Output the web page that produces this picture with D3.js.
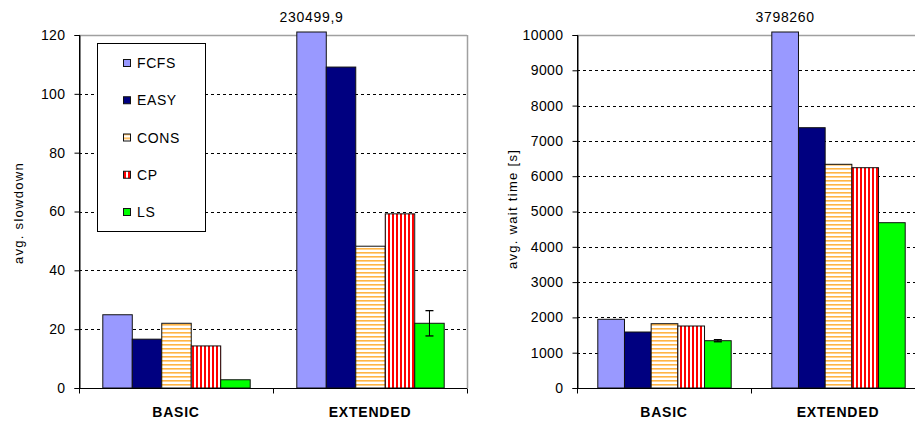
<!DOCTYPE html>
<html>
<head>
<meta charset="utf-8">
<script src="https://cdn.jsdelivr.net/npm/d3@7"></script>
<style>
  html, body { margin: 0; padding: 0; background: #fff; }
  svg { display: block; font-family: "Liberation Sans", Arial, sans-serif; }
</style>
</head>
<body>
<svg id="chart" width="915" height="422"></svg>
<script>
// ---- data ----
const categories = ["BASIC", "EXTENDED"];
const series = ["FCFS", "EASY", "CONS", "CP", "LS"];

const slowdownBasic    = [24.9, 16.6, 22.0, 14.3, 2.8];
const slowdownExtended = [230499.9, 109.1, 48.2, 59.2, 22.0];
const slowdownErrBasic    = [0, 0, 0, 0, 0];
const slowdownErrExtended = [0, 0, 0, 0, 4.3];
const slowdownTicks = [0, 20, 40, 60, 80, 100, 120];

const waitBasic    = [1946, 1586, 1822, 1756, 1340];
const waitExtended = [3798260, 7374, 6337, 6241, 4683];
const waitErrBasic    = [0, 0, 0, 0, 30];
const waitErrExtended = [0, 0, 0, 0, 0];
const waitTicks = [0, 1000, 2000, 3000, 4000, 5000, 6000, 7000, 8000, 9000, 10000];

const fills = { FCFS: "#9999FF", EASY: "#000080", CONS: "url(#pCons)", CP: "url(#pCp)", LS: "#00FF00" };

const svg = d3.select("#chart");
const defs = svg.append("defs");
// horizontal orange stripes
const pc = defs.append("pattern").attr("id", "pCons").attr("patternUnits", "userSpaceOnUse")
  .attr("width", 4).attr("height", 4);
pc.append("rect").attr("width", 4).attr("height", 4).attr("fill", "#fff");
pc.append("rect").attr("y", 0).attr("width", 4).attr("height", 1.6).attr("fill", "#FFB444");
// vertical red stripes
const pr = defs.append("pattern").attr("id", "pCp").attr("patternUnits", "userSpaceOnUse")
  .attr("width", 4).attr("height", 4);
pr.append("rect").attr("width", 4).attr("height", 4).attr("fill", "#fff");
pr.append("rect").attr("x", 0).attr("width", 2).attr("height", 4).attr("fill", "#FF0000");

function fmtVal(v) { return String(v).replace(".", ","); }

function drawPanel(opt) {
  const { left, right, top, bottom, max, ticks, barPad } = opt;
  const g = svg.append("g");
  const x = d3.scaleBand().domain(categories).range([left, right]).padding(0);
  const xs = d3.scaleBand().domain(series).range([barPad, x.bandwidth() - barPad]).padding(0);
  const y = d3.scaleLinear().domain([0, max]).range([bottom, top]);

  // gridlines (dashed)
  g.append("g").selectAll("line").data(ticks.filter(t => t > 0 && t < max)).join("line")
    .attr("x1", left).attr("x2", right)
    .attr("y1", d => Math.round(y(d)) + 0.5).attr("y2", d => Math.round(y(d)) + 0.5)
    .attr("stroke", "#000").attr("stroke-dasharray", "3,3").attr("shape-rendering", "crispEdges");

  // plot border (grey) top and right
  g.append("line").attr("x1", left).attr("x2", right).attr("y1", top + 0.5).attr("y2", top + 0.5)
    .attr("stroke", "#A0A0A0").attr("stroke-width", 1.5);
  g.append("line").attr("x1", right + 0.5).attr("x2", right + 0.5).attr("y1", top).attr("y2", bottom)
    .attr("stroke", "#A0A0A0").attr("stroke-width", 1.5);

  // y axis
  const yAxis = d3.axisLeft(y).tickValues(ticks).tickSize(5).tickPadding(9).tickFormat(d3.format("d"));
  const ya = g.append("g").attr("transform", `translate(${left + 0.5},0)`).call(yAxis);
  ya.select(".domain").attr("stroke", "#000");
  ya.selectAll(".tick line").attr("stroke", "#000");
  ya.selectAll(".tick text").attr("font-size", 14).attr("letter-spacing", "0.4px").attr("fill", "#000")
    .attr("font-family", "Liberation Sans, Arial, sans-serif");

  return { g, x, xs, y };
}

function drawBars(p, opt) {
  const { g, x, xs, y } = p;
  const rows = [];
  categories.forEach((c, ci) => {
    const vals = ci === 0 ? opt.basic : opt.extended;
    const errs = ci === 0 ? opt.errB : opt.errE;
    series.forEach((s, si) => rows.push({ c, s, v: vals[si], e: errs[si] }));
  });
  const over = 3;
  g.append("g").selectAll("rect").data(rows).join("rect")
    .attr("x", d => x(d.c) + xs(d.s) + 0.5)
    .attr("width", xs.bandwidth())
    .attr("y", d => d.v > opt.max ? y(opt.max) - over : y(d.v))
    .attr("height", d => d.v > opt.max ? y(0) - y(opt.max) + over : y(0) - y(d.v))
    .attr("fill", d => fills[d.s])
    .attr("stroke", "#111").attr("stroke-width", 1);

  // error bars
  const eb = g.append("g").selectAll("g").data(rows.filter(d => d.e > 0)).join("g");
  const cx = d => x(d.c) + xs(d.s) + xs.bandwidth() / 2 + 0.5;
  eb.append("line").attr("x1", cx).attr("x2", cx)
    .attr("y1", d => y(d.v + d.e)).attr("y2", d => y(d.v - d.e)).attr("stroke", "#000");
  eb.append("line").attr("x1", d => cx(d) - 4).attr("x2", d => cx(d) + 4)
    .attr("y1", d => y(d.v + d.e)).attr("y2", d => y(d.v + d.e)).attr("stroke", "#000").attr("stroke-width", 1.3);
  eb.append("line").attr("x1", d => cx(d) - 4).attr("x2", d => cx(d) + 4)
    .attr("y1", d => y(d.v - d.e)).attr("y2", d => y(d.v - d.e)).attr("stroke", "#000").attr("stroke-width", 1.3);

  // overflow labels
  g.append("g").selectAll("text").data(rows.filter(d => d.v > opt.max)).join("text")
    .attr("x", d => cx(d)).attr("y", 22)
    .attr("text-anchor", "middle").attr("font-size", 14).attr("letter-spacing", "0.7px")
    .text(d => fmtVal(d.v));

  // x axis
  const xa = g.append("g").attr("transform", `translate(0,${opt.bottom + 0.5})`);
  xa.append("line").attr("x1", opt.left).attr("x2", opt.right).attr("stroke", "#000");
  const bounds = [opt.left, opt.left + x.bandwidth(), opt.right];
  xa.selectAll(".xt").data(bounds).join("line").attr("class", "xt")
    .attr("x1", d => d + 0.5).attr("x2", d => d + 0.5).attr("y1", 0).attr("y2", 5).attr("stroke", "#000");
  xa.selectAll("text").data(categories).join("text")
    .attr("x", d => x(d) + x.bandwidth() / 2).attr("y", 28.5)
    .attr("text-anchor", "middle").attr("font-size", 14).attr("font-weight", "bold")
    .attr("letter-spacing", "0.8px").text(d => d);

  // y-axis line on top
  g.append("line").attr("x1", opt.left + 0.5).attr("x2", opt.left + 0.5)
    .attr("y1", opt.top).attr("y2", opt.bottom + 0.5).attr("stroke", "#000");

  // title
  g.append("text").attr("transform", `translate(${opt.titleX},${opt.titleY}) rotate(-90)`)
    .attr("text-anchor", "middle").attr("dominant-baseline", "central")
    .attr("font-size", 13).attr("letter-spacing", "1.3px").text(opt.title);
}

const leftOpt = {
  left: 79, right: 467, top: 35, bottom: 388, max: 120, ticks: slowdownTicks,
  basic: slowdownBasic, extended: slowdownExtended, errB: slowdownErrBasic, errE: slowdownErrExtended,
  title: "avg. slowdown", titleX: 18, titleY: 213, barPad: 23.3
};
const rightOpt = {
  left: 577, right: 925, top: 35, bottom: 388, max: 10000, ticks: waitTicks,
  basic: waitBasic, extended: waitExtended, errB: waitErrBasic, errE: waitErrExtended,
  title: "avg. wait time [s]", titleX: 512, titleY: 209, barPad: 20.3
};

const pL = drawPanel(leftOpt);
drawBars(pL, leftOpt);
const pR = drawPanel(rightOpt);
drawBars(pR, rightOpt);

// legend
const lg = svg.append("g");
lg.append("rect").attr("x", 97.5).attr("y", 43.5).attr("width", 108).attr("height", 188)
  .attr("fill", "#fff").attr("stroke", "#000");
const ly = d3.scalePoint().domain(series).range([63, 212]);
const li = lg.selectAll("g.li").data(series).join("g").attr("class", "li")
  .attr("transform", d => `translate(0,${ly(d)})`);
li.append("rect").attr("x", 123.5).attr("y", -3.5).attr("width", 7).attr("height", 7)
  .attr("fill", d => fills[d]).attr("stroke", "#111");
li.append("text").attr("x", 137).attr("y", 0).attr("dominant-baseline", "central")
  .attr("font-size", 14).attr("letter-spacing", "0.6px").text(d => d);
</script>
</body>
</html>
